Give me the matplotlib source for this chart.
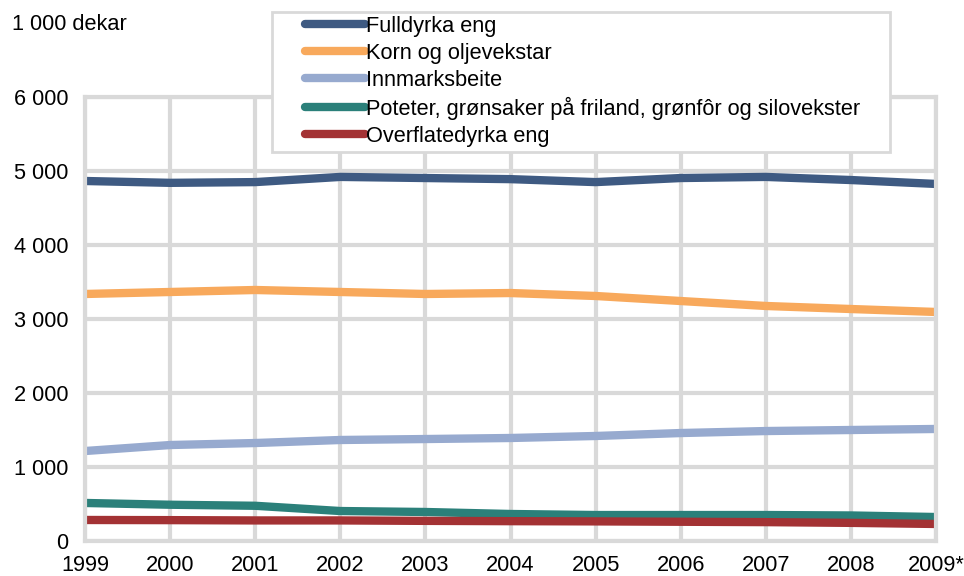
import matplotlib
matplotlib.use("Agg")
import matplotlib.pyplot as plt
from matplotlib.patches import Rectangle

plt.rcParams['font.family'] = ['Liberation Sans', 'DejaVu Sans']

years = ["1999", "2000", "2001", "2002", "2003", "2004", "2005", "2006", "2007", "2008", "2009*"]
fulldyrka = [4865, 4840, 4850, 4920, 4905, 4890, 4850, 4905, 4920, 4878, 4825]
korn = [3338, 3365, 3392, 3365, 3338, 3351, 3311, 3243, 3176, 3135, 3095]
innmark = [1216, 1297, 1324, 1365, 1378, 1392, 1419, 1459, 1486, 1500, 1514]
poteter = [514, 490, 476, 405, 392, 365, 351, 351, 351, 345, 324]
overflate = [284, 282, 278, 278, 272, 268, 265, 260, 255, 245, 230]

series = [
    ("Fulldyrka eng", fulldyrka, "#3e5a82"),
    ("Korn og oljevekstar", korn, "#f8a95c"),
    ("Innmarksbeite", innmark, "#97aacf"),
    ("Poteter, grønsaker på friland, grønfôr og silovekster", poteter, "#2b807a"),
    ("Overflatedyrka eng", overflate, "#a33234"),
]

W, H = 964, 576
fig = plt.figure(figsize=(W / 100, H / 100), dpi=100)
ax = fig.add_axes([85 / W, 1 - 541 / H, (936 - 85) / W, (541 - 97) / H])

x = list(range(len(years)))
for name, vals, col in series:
    ax.plot(x, vals, color=col, lw=6, label=name, solid_capstyle='butt')

ax.set_xlim(0, len(years) - 1)
ax.set_ylim(0, 6000)
ax.set_xticks(x)
ax.set_xticklabels(years)
ax.set_yticks(range(0, 6001, 1000))
ax.set_yticklabels(["0", "1 000", "2 000", "3 000", "4 000", "5 000", "6 000"])
ax.grid(True, color="#d9d9d9", lw=3)
ax.set_axisbelow(True)
for s in ax.spines.values():
    s.set_color("#d9d9d9")
    s.set_linewidth(3)
ax.tick_params(length=0, labelsize=15.7)
ax.tick_params(axis='y', pad=12)
ax.tick_params(axis='x', pad=10)

fig.text(12 / W, 1 - 25 / H, "1 000 dekar", fontsize=15.7, va='center')

# legend box drawn by hand so the padding matches
box = Rectangle((272 / W, 1 - 152 / H), (890 - 272) / W, (152 - 12) / H,
                transform=fig.transFigure, facecolor='white', edgecolor='#d9d9d9',
                lw=2, zorder=5)
fig.patches.append(box)

handles, labels = ax.get_legend_handles_labels()
leg = fig.legend(handles, labels, loc='upper left', bbox_to_anchor=(305 / W, 1 - 16 / H),
                 fontsize=15.7, frameon=False, handlelength=2.75, handletextpad=0.05,
                 labelspacing=0.27, borderpad=0, borderaxespad=0)
leg.set_zorder(6)
for h in leg.get_lines():
    h.set_linewidth(6)
    h.set_solid_capstyle('round')

fig.savefig("out.png", dpi=100)
